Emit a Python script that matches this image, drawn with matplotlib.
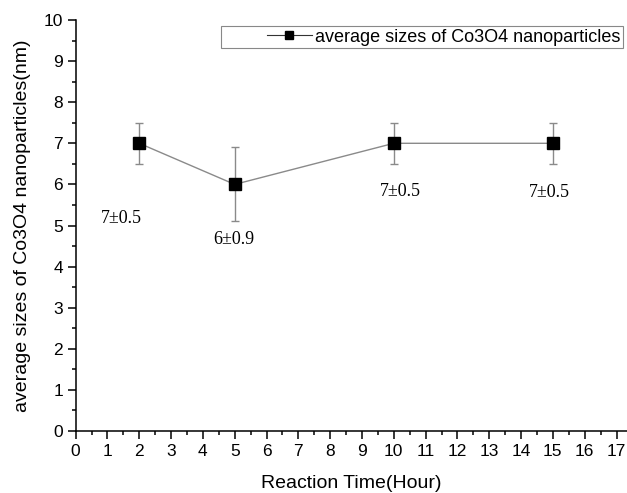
import matplotlib
matplotlib.use("Agg")
import matplotlib.pyplot as plt
from matplotlib.ticker import MultipleLocator
from matplotlib.patches import Rectangle

hours = [2, 5, 10, 15]
sizes = [7, 6, 7, 7]
errors = [0.5, 0.9, 0.5, 0.5]
labels = ["7\u00b10.5", "6\u00b10.9", "7\u00b10.5", "7\u00b10.5"]
label_x = [1.45, 4.98, 10.2, 14.9]
label_y = [5.18, 4.67, 5.82, 5.8]

plt.rcParams['font.family'] = ['Liberation Sans', 'DejaVu Sans']

fig = plt.figure(figsize=(6.27, 4.93), dpi=100)
x0 = 75.6 / 627
ax = fig.add_axes([x0, (493 - 431) / 493, 1.0 - x0, (431 - 20) / 493])

ax.errorbar(hours, sizes, yerr=errors, color='#8a8a8a', lw=1.0, ecolor='#8a8a8a',
            elinewidth=1.0, capsize=3, capthick=1.0, marker='s', markersize=8,
            markerfacecolor='black', markeredgecolor='black', zorder=3)
ax.plot([], [], color='#333333', lw=0.8, marker='s', markersize=6,
        markerfacecolor='black', markeredgecolor='black',
        label='average sizes of Co3O4 nanoparticles')

for x, y, t in zip(label_x, label_y, labels):
    ax.text(x, y, t, ha='center', va='center', fontsize=13, family='Liberation Serif')

ax.set_xlim(0, 17.33)
ax.set_ylim(0, 10)
ax.xaxis.set_major_locator(MultipleLocator(1))
ax.xaxis.set_minor_locator(MultipleLocator(0.5))
ax.yaxis.set_major_locator(MultipleLocator(1))
ax.yaxis.set_minor_locator(MultipleLocator(0.5))
ax.spines['top'].set_visible(False)
ax.spines['right'].set_visible(False)
ax.spines['left'].set_linewidth(1.1)
ax.spines['bottom'].set_linewidth(1.1)
ax.tick_params(which='major', direction='out', length=6, width=1.1, labelsize=12.5, pad=3)
ax.tick_params(which='minor', direction='out', length=3, width=1.1)
ax.set_xticks(range(0, 18))

ax.set_xlabel('Reaction Time(Hour)', fontsize=14, labelpad=12)
ax.set_ylabel('average sizes of Co3O4 nanoparticles(nm)', fontsize=14, labelpad=9)

leg = ax.legend(loc='upper right', bbox_to_anchor=(622.7 / 627, 1 - 26 / 493),
                bbox_transform=fig.transFigure, fontsize=13,
                frameon=False, handlelength=2.5, handletextpad=0.15,
                borderpad=0.15, borderaxespad=0)

# legend frame (wider on the left, as in the reference)
fig.patches.append(Rectangle((221 / 627, 1 - 48.3 / 493), (622.7 - 221) / 627, 22.3 / 493,
                             transform=fig.transFigure, fill=False,
                             edgecolor='#888888', linewidth=0.8, zorder=5))

fig.savefig('out.png', dpi=100)
